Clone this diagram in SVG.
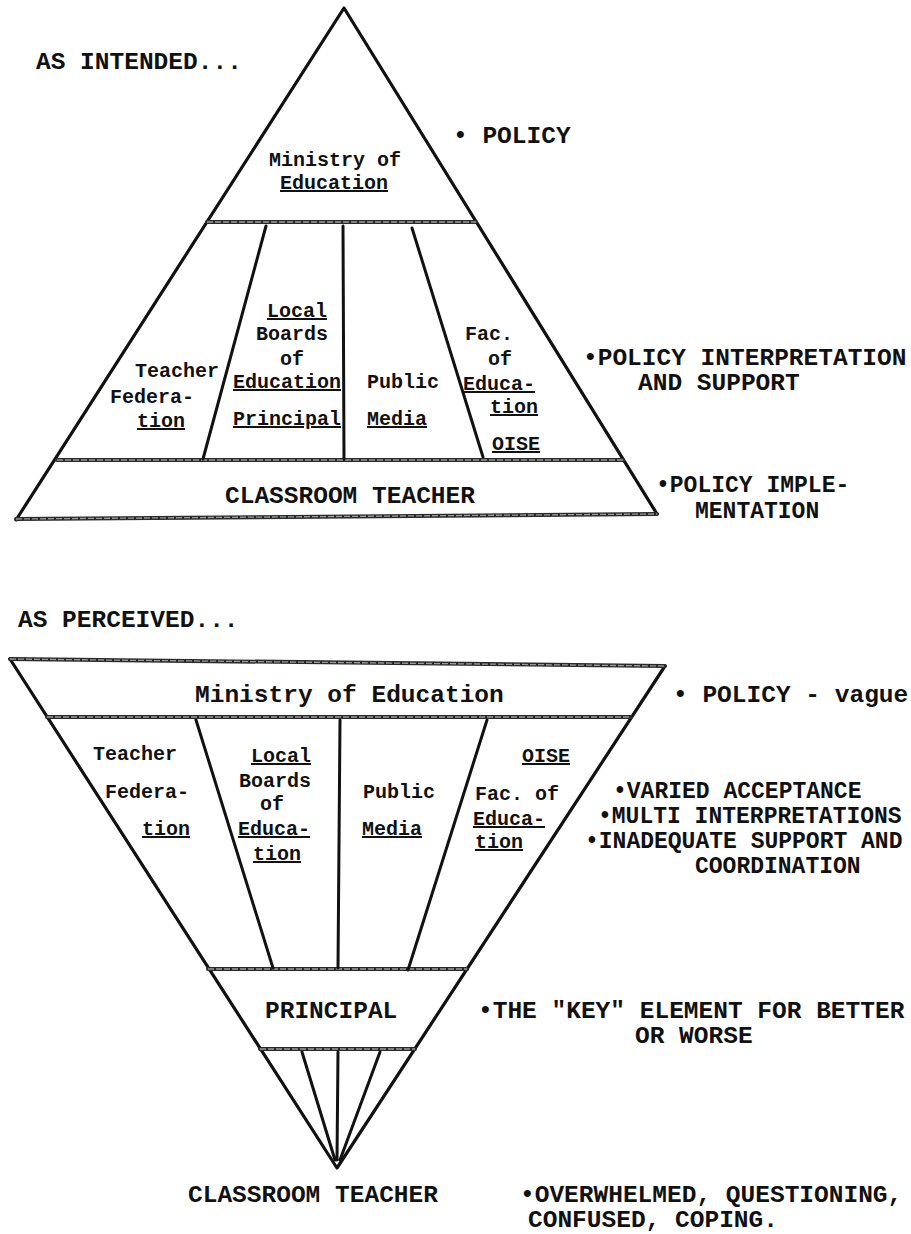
<svg xmlns="http://www.w3.org/2000/svg" width="911" height="1234" viewBox="0 0 911 1234">
<style>
  .edge{stroke:#111;stroke-width:3.2;fill:none;stroke-linecap:round;stroke-linejoin:round}
  .div{stroke:#111;stroke-width:3;fill:none;stroke-linecap:round}
  .band{stroke:#2a2a2a;stroke-width:4;fill:none;stroke-linecap:round}
  .bandin{stroke:#9a9a9a;stroke-width:1.3;fill:none;stroke-dasharray:6 2}
  .cap{font-family:"Liberation Mono","DejaVu Sans Mono",monospace;font-weight:bold;font-size:24.5px;fill:#111}
  .sm{font-size:23px}
  .lbl{font-family:"Liberation Mono","DejaVu Sans Mono",monospace;font-weight:bold;font-size:20px;fill:#111}
  .u{text-decoration:underline}
</style>
<rect width="911" height="1234" fill="#fff"/>

<g id="connectors">
  <!-- AS INTENDED triangle -->
  <path class="edge" d="M16,520 L344,8 L657,514"/>
  <path class="band" d="M207,222 L476,222 M57,460 L623,460 M16,519 L657,514"/>
  <path class="bandin" d="M207,222 L476,222 M57,460 L623,460 M16,519 L657,514"/>
  <path class="div" d="M266,226 L203,459 M343,226 L344,459 M412,228 L483,457"/>
  <!-- AS PERCEIVED triangle -->
  <path class="edge" d="M10,659 L337,1168 L665,666"/>
  <path class="band" d="M10,659 L665,666 M47,717 L631,717 M208,969 L467,969 M260,1049 L415,1049"/>
  <path class="bandin" d="M10,659 L665,666 M47,717 L631,717 M208,969 L467,969 M260,1049 L415,1049"/>
  <path class="div" d="M196,720 L273,968 M340,720 L338,968 M487,720 L408,970"/>
  <path class="div" d="M302,1052 L335,1160 M338,1052 L337,1160 M380,1052 L340,1160"/>
</g>

<g id="title-intended"><text class="cap" x="36" y="69">AS INTENDED...</text></g>
<g id="intended-ministry">
  <text class="lbl" x="335" y="166" text-anchor="middle">Ministry of</text>
  <text class="lbl u" x="334" y="189" text-anchor="middle">Education</text>
</g>
<g id="intended-teacher-federation">
  <text class="lbl" x="135" y="377">Teacher</text>
  <text class="lbl" x="110" y="403">Federa-</text>
  <text class="lbl u" x="137" y="427">tion</text>
</g>
<g id="intended-local-boards">
  <text class="lbl u" x="297" y="317" text-anchor="middle">Local</text>
  <text class="lbl" x="292" y="340" text-anchor="middle">Boards</text>
  <text class="lbl" x="292" y="365" text-anchor="middle">of</text>
  <text class="lbl u" x="287" y="388" text-anchor="middle">Education</text>
  <text class="lbl u" x="287" y="425" text-anchor="middle">Principal</text>
</g>
<g id="intended-public-media">
  <text class="lbl" x="367" y="388">Public</text>
  <text class="lbl u" x="367" y="425">Media</text>
</g>
<g id="intended-fac-education">
  <text class="lbl" x="465" y="340">Fac.</text>
  <text class="lbl" x="488" y="365">of</text>
  <text class="lbl u" x="463" y="390">Educa-</text>
  <text class="lbl u" x="490" y="413">tion</text>
  <text class="lbl u" x="492" y="450">OISE</text>
</g>
<g id="intended-classroom-teacher"><text class="cap" x="225" y="503">CLASSROOM TEACHER</text></g>
<g id="intended-notes">
  <text class="cap" x="453" y="143">• POLICY</text>
  <text class="cap" x="583" y="365">•POLICY INTERPRETATION</text>
  <text class="cap" x="638" y="390">AND SUPPORT</text>
  <text class="cap sm" x="656" y="492">•POLICY IMPLE-</text>
  <text class="cap sm" x="695" y="518">MENTATION</text>
</g>

<g id="title-perceived"><text class="cap" x="18" y="627">AS PERCEIVED...</text></g>
<g id="perceived-ministry"><text class="cap" x="195" y="702">Ministry of Education</text></g>
<g id="perceived-teacher-federation">
  <text class="lbl" x="93" y="760">Teacher</text>
  <text class="lbl" x="105" y="798">Federa-</text>
  <text class="lbl u" x="142" y="835">tion</text>
</g>
<g id="perceived-local-boards">
  <text class="lbl u" x="281" y="762" text-anchor="middle">Local</text>
  <text class="lbl" x="275" y="787" text-anchor="middle">Boards</text>
  <text class="lbl" x="272" y="810" text-anchor="middle">of</text>
  <text class="lbl u" x="238" y="835">Educa-</text>
  <text class="lbl u" x="253" y="860">tion</text>
</g>
<g id="perceived-public-media">
  <text class="lbl" x="363" y="798">Public</text>
  <text class="lbl u" x="362" y="835">Media</text>
</g>
<g id="perceived-fac-education">
  <text class="lbl u" x="522" y="762">OISE</text>
  <text class="lbl" x="475" y="800">Fac. of</text>
  <text class="lbl u" x="473" y="825">Educa-</text>
  <text class="lbl u" x="475" y="848">tion</text>
</g>
<g id="perceived-principal"><text class="cap" x="265" y="1018">PRINCIPAL</text></g>
<g id="perceived-classroom-teacher"><text class="cap" x="188" y="1202">CLASSROOM TEACHER</text></g>
<g id="perceived-notes">
  <text class="cap" x="673" y="702">• POLICY - vague</text>
  <text class="cap sm" x="613" y="798">•VARIED ACCEPTANCE</text>
  <text class="cap sm" x="598" y="823">•MULTI INTERPRETATIONS</text>
  <text class="cap sm" x="585" y="848">•INADEQUATE SUPPORT AND</text>
  <text class="cap sm" x="695" y="873">COORDINATION</text>
  <text class="cap" x="478" y="1018">•THE "KEY" ELEMENT FOR BETTER</text>
  <text class="cap" x="635" y="1043">OR WORSE</text>
  <text class="cap" x="520" y="1202">•OVERWHELMED, QUESTIONING,</text>
  <text class="cap" x="528" y="1227">CONFUSED, COPING.</text>
</g>
</svg>
